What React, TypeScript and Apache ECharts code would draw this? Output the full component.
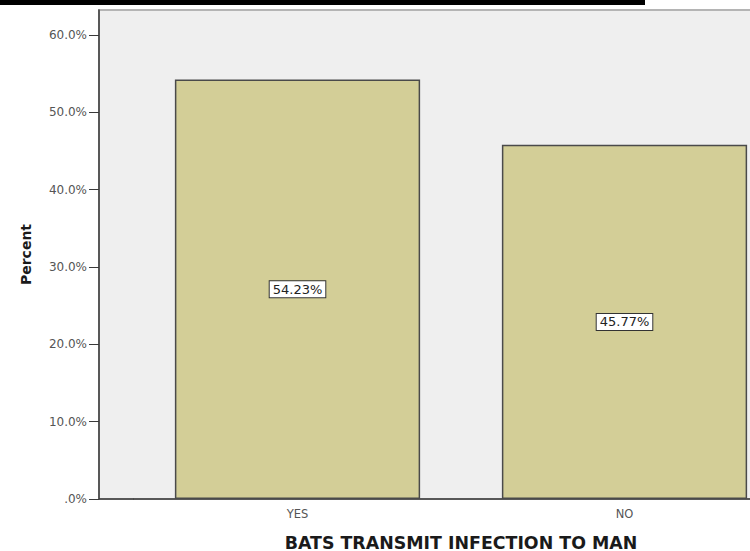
import React, { useEffect, useRef } from "react";
import * as echarts from "echarts";

const categories = ["YES", "NO"];
const percentValues = [54.23, 45.77];
const yTickValues = [0, 10, 20, 30, 40, 50, 60];
const xAxisTitle = "BATS TRANSMIT INFECTION TO MAN";
const yAxisTitle = "Percent";

const AXIS_COLOR = "#3a3a3a";
const PLOT_BG = "#efefef";
const BAR_COLOR = "#d3ce97";

export default function App() {
  const ref = useRef<HTMLDivElement | null>(null);

  useEffect(() => {
    if (!ref.current) return;
    const chart = echarts.init(ref.current, undefined, { renderer: "svg" });

    const option: any = {
      animation: false,
      backgroundColor: "#ffffff",
      grid: {
        left: 134,
        right: 12,
        top: 10,
        bottom: 52,
        containLabel: false,
        outerBoundsMode: "none",
      },
      graphic: {
        elements: [
          {
            type: "rect",
            z: -1,
            shape: { x: 99, y: 10, width: 720, height: 489 },
            style: { fill: PLOT_BG, stroke: "#b4b4b4", lineWidth: 2 },
          },
          {
            type: "line",
            z: 10,
            shape: { x1: 99, y1: 499, x2: 134, y2: 499 },
            style: { stroke: AXIS_COLOR, lineWidth: 1.5 },
          },
          {
            type: "rect",
            z: 10,
            shape: { x: 0, y: 0, width: 645, height: 5 },
            style: { fill: "#000000" },
          },
        ],
      },
      xAxis: {
        type: "category",
        data: categories,
        name: xAxisTitle,
        nameLocation: "middle",
        nameGap: 35,
        nameTextStyle: {
          fontFamily: "DejaVu Sans",
          fontWeight: "bold",
          fontSize: 17.4,
          color: "#1a1a1a",
        },
        axisLine: { lineStyle: { color: AXIS_COLOR, width: 1.5 } },
        axisTick: { alignWithLabel: true, length: 6, lineStyle: { color: AXIS_COLOR } },
        axisLabel: {
          margin: 9,
          fontFamily: "DejaVu Sans",
          fontSize: 11.5,
          color: "#555555",
        },
        splitLine: { show: false },
      },
      yAxis: {
        type: "value",
        min: 0,
        max: 63.2,
        interval: 10,
        offset: 35,
        name: yAxisTitle,
        nameLocation: "middle",
        nameGap: 66,
        nameRotate: 90,
        nameTextStyle: {
          fontFamily: "DejaVu Sans",
          fontWeight: "bold",
          fontSize: 14,
          color: "#1a1a1a",
        },
        axisLine: { show: true, lineStyle: { color: AXIS_COLOR, width: 1.5 } },
        axisTick: {
          show: true,
          length: 10,
          customValues: yTickValues,
          lineStyle: { color: AXIS_COLOR },
        },
        axisLabel: {
          margin: 12,
          customValues: yTickValues,
          fontFamily: "DejaVu Sans",
          fontSize: 12,
          color: "#555555",
          formatter: (v: number) => (v === 0 ? ".0%" : v.toFixed(1) + "%"),
        },
        splitLine: { show: false },
      },
      series: [
        {
          type: "bar",
          data: percentValues,
          barWidth: "75%",
          itemStyle: {
            color: BAR_COLOR,
            borderColor: "#4a4a4a",
            borderWidth: 1.5,
          },
          label: {
            show: true,
            position: "inside",
            formatter: (p: any) => Number(p.value).toFixed(2) + "%",
            fontFamily: "DejaVu Sans",
            fontSize: 13,
            color: "#222222",
            backgroundColor: "#ffffff",
            borderColor: "#333333",
            borderWidth: 1,
            padding: [2, 3, 1, 3],
          },
        },
      ],
    };

    chart.setOption(option);
    return () => chart.dispose();
  }, []);

  return (
    <div
      ref={ref}
      style={{ position: "fixed", left: 0, top: 0, width: 800, height: 551 }}
    />
  );
}
